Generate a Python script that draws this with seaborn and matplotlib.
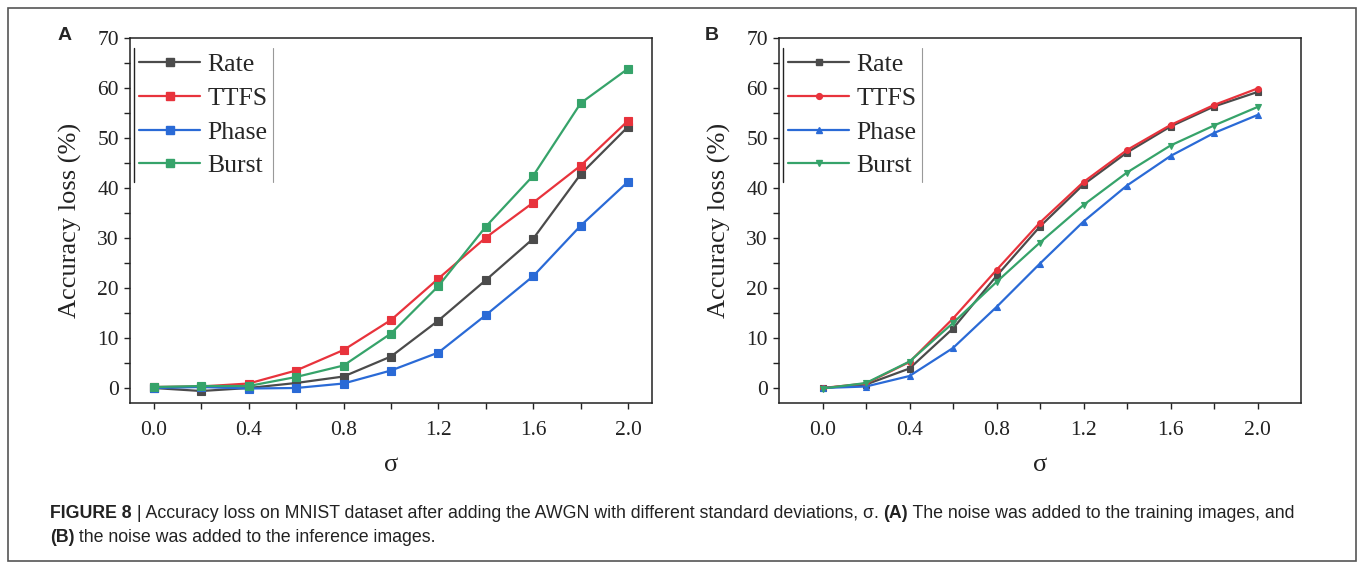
import matplotlib
matplotlib.use("Agg")
import matplotlib.pyplot as plt
import seaborn as sns
import pandas as pd
from matplotlib.lines import Line2D
from matplotlib.patches import Rectangle
from matplotlib.ticker import MultipleLocator, FixedLocator, FormatStrFormatter

# ---------------- data ----------------
sigma = [0.0, 0.2, 0.4, 0.6, 0.8, 1.0, 1.2, 1.4, 1.6, 1.8, 2.0]
series_names = ["Rate", "TTFS", "Phase", "Burst"]

# Panel A: noise added to training images
a_rate = [0.0, -0.6, 0.0, 1.0, 2.3, 6.3, 13.5, 21.6, 29.9, 42.8, 52.3]
a_ttfs = [0.2, 0.3, 0.9, 3.5, 7.6, 13.6, 21.9, 30.1, 37.1, 44.5, 53.5]
a_phase = [0.0, 0.2, -0.1, 0.0, 0.9, 3.5, 7.1, 14.6, 22.4, 32.5, 41.3]
a_burst = [0.2, 0.4, 0.4, 2.2, 4.5, 10.9, 20.4, 32.3, 42.5, 57.0, 63.9]

# Panel B: noise added to inference images
b_rate = [0.0, 0.7, 3.9, 11.9, 22.4, 32.3, 40.7, 47.1, 52.3, 56.3, 59.2]
b_ttfs = [0.0, 0.9, 5.2, 13.9, 23.6, 33.1, 41.2, 47.6, 52.6, 56.6, 59.9]
b_phase = [0.0, 0.3, 2.4, 8.0, 16.2, 24.9, 33.3, 40.5, 46.4, 51.0, 54.6]
b_burst = [-0.1, 1.0, 5.3, 13.0, 21.2, 29.1, 36.6, 43.1, 48.5, 52.5, 56.2]

x_major_ticks = [0.0, 0.4, 0.8, 1.2, 1.6, 2.0]
x_minor_ticks = [0.2, 0.6, 1.0, 1.4, 1.8]
y_major_ticks = [0, 10, 20, 30, 40, 50, 60, 70]

colors = {"Rate": "#4b4b4b", "TTFS": "#e8333c", "Phase": "#2a6ad6", "Burst": "#36a36a"}
markers_a = {"Rate": "s", "TTFS": "s", "Phase": "s", "Burst": "s"}
markers_b = {"Rate": "s", "TTFS": "o", "Phase": "^", "Burst": "v"}

caption_line1 = [("FIGURE 8", "bold"), (" | Accuracy loss on MNIST dataset after adding the AWGN with different standard deviations, \u03c3. ", "normal"),
                 ("(A)", "bold"), (" The noise was added to the training images, and", "normal")]
caption_line2 = [("(B)", "bold"), (" the noise was added to the inference images.", "normal")]


def long_df(vals):
    rows = []
    for name, v in zip(series_names, vals):
        for s, y in zip(sigma, v):
            rows.append({"sigma": s, "loss": y, "method": name})
    return pd.DataFrame(rows)


df_a = long_df([a_rate, a_ttfs, a_phase, a_burst])
df_b = long_df([b_rate, b_ttfs, b_phase, b_burst])

# ---------------- style ----------------
sns.set_style("ticks")
SERIF = ["Liberation Serif", "DejaVu Serif"]
SANS = ["Liberation Sans", "DejaVu Sans"]
plt.rcParams["font.family"] = SERIF
plt.rcParams["axes.linewidth"] = 1.1

W, H = 1358, 562
fig = plt.figure(figsize=(W / 100, H / 100), dpi=100)
fig.patch.set_facecolor("white")


def px_axes(left, top, right, bottom):
    return fig.add_axes([left / W, 1 - bottom / H, (right - left) / W, (bottom - top) / H])


ax_a = px_axes(130, 38, 652, 403)
ax_b = px_axes(779, 38, 1301, 403)


def draw_panel(ax, df, markers, msize, xlim):
    for name in series_names:
        sub = df[df["method"] == name]
        sns.lineplot(data=sub, x="sigma", y="loss", ax=ax, color=colors[name],
                     marker=markers[name], markersize=msize, markeredgecolor=colors[name],
                     markeredgewidth=0.8, linewidth=1.6, estimator=None, sort=False,
                     errorbar=None, legend=False)
    ax.set_xlim(*xlim)
    ax.set_ylim(-3, 70)
    ax.xaxis.set_major_locator(FixedLocator(x_major_ticks))
    ax.xaxis.set_minor_locator(FixedLocator(x_minor_ticks))
    ax.yaxis.set_major_locator(FixedLocator(y_major_ticks))
    ax.yaxis.set_minor_locator(MultipleLocator(5))
    ax.xaxis.set_major_formatter(FormatStrFormatter("%.1f"))
    ax.yaxis.set_major_formatter(FormatStrFormatter("%d"))
    ax.tick_params(axis="both", which="both", direction="out", length=4.5, width=1.0,
                   colors="#222222", labelsize=15.5, pad=3.5, top=False, right=False)
    ax.tick_params(axis="x", which="major", pad=8.5)
    for sp in ax.spines.values():
        sp.set_visible(True)
        sp.set_color("#222222")
    ax.set_xlabel("\u03c3", fontsize=19, color="#222222")
    ax.set_ylabel("Accuracy loss (%)", fontsize=19, color="#222222")
    ax.yaxis.set_label_coords(-0.092, 0.5)
    ax.xaxis.set_label_coords(0.5, -0.14)

    handles = [Line2D([], [], color=colors[n], marker=markers[n], markersize=msize,
                      markeredgecolor=colors[n], linewidth=1.6) for n in series_names]
    leg = ax.legend(handles, series_names, loc="upper left", bbox_to_anchor=(0.008, 0.973),
                    frameon=False, fontsize=18.5, handlelength=2.35, handletextpad=0.3,
                    labelspacing=0.42, borderpad=0.2, borderaxespad=0.0)
    return leg


leg_a = draw_panel(ax_a, df_a, markers_a, 5.4, (-0.1, 2.1))
leg_b = draw_panel(ax_b, df_b, markers_b, 4.2, (-0.2, 2.2))

fig.canvas.draw()
renderer = fig.canvas.get_renderer()

# legend side rules (only vertical edges visible in the reference)
for leg in (leg_a, leg_b):
    bb = leg.get_window_extent(renderer)
    x0, x1, y0, y1 = bb.x0 / W, bb.x1 / W, bb.y0 / H, bb.y1 / H
    fig.add_artist(Line2D([x0, x0], [y0, y1], transform=fig.transFigure, color="#222222", lw=1.0))
    fig.add_artist(Line2D([x1, x1], [y0, y1], transform=fig.transFigure, color="#999999", lw=0.8))

# panel letters
fig.text(65 / W, 1 - 35 / H, "A", fontsize=14, fontweight="bold", family=SANS, ha="center", va="center")
fig.text(712 / W, 1 - 35 / H, "B", fontsize=14, fontweight="bold", family=SANS, ha="center", va="center")


def draw_segments(x_px, y_px, segments, size):
    x = x_px
    for s, weight in segments:
        t = fig.text(x / W, 1 - y_px / H, s, fontsize=size, fontweight=weight, family=SANS,
                     ha="left", va="center", color="#222222")
        bb = t.get_window_extent(renderer)
        x += bb.width


draw_segments(50, 514, caption_line1, 12.8)
draw_segments(50, 538, caption_line2, 12.8)

# outer frame
fig.add_artist(Rectangle((8 / W, 1 / H), (1356 - 8) / W, (H - 9) / H, transform=fig.transFigure,
                         fill=False, edgecolor="#555555", lw=1.2))

fig.savefig("out.png", dpi=100)
